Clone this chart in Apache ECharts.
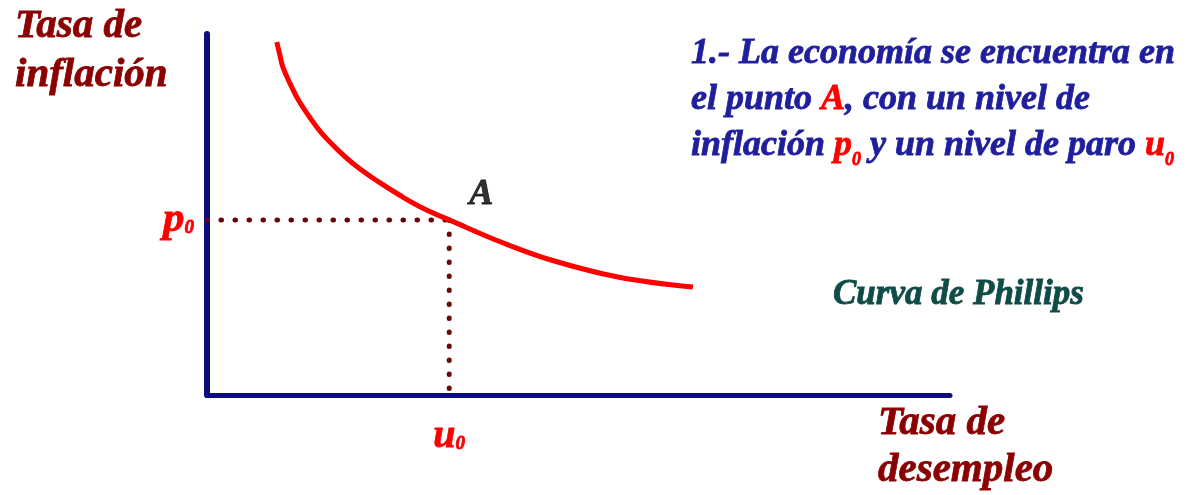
<!DOCTYPE html>
<html lang="es">
<head>
    <meta charset="UTF-8">
    <title>Curva de Phillips</title>
    <script type="text/javascript" src="https://cdn.jsdelivr.net/npm/echarts@6/dist/echarts.min.js"></script>
    <style>
      *{margin:0;padding:0}
      html,body{width:100%;height:100%;background:#fff}
      #main{width:1191px;height:495px}
    </style>
</head>
<body>
<div id="main"></div>

<script>
    var chart = echarts.init(document.getElementById("main"));

    // curva de Phillips (paro, inflacion), escala 0-100
    var curveU = [9.4, 9.8, 10.2, 11.2, 12.3, 13.8, 15.4, 17.6, 19.9, 22.9, 25.9, 29.0, 32.6, 39.9, 46.3, 55.3, 65.4];
    var curveP = [97.8, 94.2, 90.9, 86.2, 81.7, 77.0, 72.6, 67.9, 63.7, 59.3, 55.4, 51.8, 48.5, 42.1, 37.4, 32.7, 29.9];
    // punto A
    var u0 = 32.6;
    var p0 = 48.5;
    var uBottom = -1.9; // la linea punteada baja un poco bajo el eje

    var serif = '"Liberation Serif", "Times New Roman", serif';
    var darkRed = '#8b0000';
    var navy = '#1f1f9e';
    var axisBlue = '#0c0c80';
    var dotColor = '#6a0606';

    var curveData = curveU.map(function (u, i) { return [u, curveP[i]]; });

    var dotted = {
        color: dotColor,
        width: 5,
        type: [0.5, 13.5],
        cap: 'round'
    };

    function font(size, extra) {
        var s = {
            fontFamily: serif,
            fontStyle: 'italic',
            fontWeight: 'bold',
            fontSize: size
        };
        for (var k in extra) s[k] = extra[k];
        return s;
    }

    // etiquetas de ejes / series: trazo fino para engrosar
    function lab(size, color, extra) {
        var s = font(size, extra);
        s.color = color;
        s.textBorderColor = color;
        s.textBorderWidth = 0.8;
        return s;
    }

    // textos graficos (zrender): fill + stroke
    function gtxt(size, color, extra) {
        var s = font(size, extra);
        s.fill = color;
        s.stroke = color;
        s.lineWidth = 0.8;
        return s;
    }

    var option = {
        backgroundColor: '#fff',
        animation: false,
        grid: {left: 207, right: 241, top: 34, bottom: 100},
        xAxis: {
            type: 'value',
            min: 0,
            max: 100,
            splitLine: {show: false},
            axisTick: {show: false},
            axisLine: {show: true, lineStyle: {color: axisBlue, width: 5}},
            axisLabel: {
                show: true,
                customValues: [u0],
                margin: 24,
                formatter: function () { return '{u|u}{s|0}'; },
                rich: {
                    u: lab(40, 'red', {lineHeight: 35}),
                    s: lab(19, 'red', {lineHeight: 19, verticalAlign: 'bottom'})
                }
            }
        },
        yAxis: {
            type: 'value',
            min: 0,
            max: 100,
            splitLine: {show: false},
            axisTick: {show: false},
            axisLine: {show: true, lineStyle: {color: axisBlue, width: 6}},
            axisLabel: {
                show: true,
                customValues: [p0],
                margin: 13,
                formatter: function () { return '{p|p}{s|0}'; },
                rich: {
                    p: lab(43, 'red', {lineHeight: 36}),
                    s: lab(19, 'red', {lineHeight: 19, verticalAlign: 'bottom'})
                }
            }
        },
        series: [
            {
                type: 'line',
                data: [[0, p0], [u0, p0]],
                symbol: 'none',
                clip: false,
                lineStyle: dotted,
                z: 1
            },
            {
                type: 'line',
                data: [[u0, p0], [u0, uBottom]],
                symbol: 'none',
                clip: false,
                lineStyle: dotted,
                z: 1
            },
            {
                type: 'line',
                data: curveData,
                smooth: 0.4,
                symbol: 'none',
                lineStyle: {color: '#ff0000', width: 5},
                z: 3
            },
            {
                type: 'scatter',
                data: [[u0, p0]],
                symbolSize: 0,
                label: lab(36, '#000', {
                    show: true,
                    formatter: 'A',
                    position: [20, -25],
                    align: 'left',
                    verticalAlign: 'middle'
                }),
                z: 4
            }
        ],
        graphic: [
            {
                type: 'text',
                x: 15,
                y: 2,
                style: gtxt(41, darkRed, {
                    text: 'Tasa de\ninflación',
                    lineHeight: 49,
                    align: 'left',
                    verticalAlign: 'top'
                })
            },
            {
                type: 'text',
                x: 878,
                y: 400,
                style: gtxt(41, darkRed, {
                    text: 'Tasa de\ndesempleo',
                    lineHeight: 47,
                    align: 'left',
                    verticalAlign: 'top'
                })
            },
            {
                type: 'text',
                x: 833,
                y: 295,
                style: gtxt(35, '#0f4c47', {
                    text: 'Curva de Phillips',
                    align: 'left',
                    verticalAlign: 'middle'
                })
            },
            {
                type: 'text',
                x: 691,
                y: 31,
                style: {
                    text: '{n|1.- La economía se encuentra en}\n' +
                          '{n|el punto }{r|A}{n|, con un nivel de}\n' +
                          '{n|inflación }{r|p}{rs|0}{n| y un nivel de paro }{r|u}{rs|0}',
                    align: 'left',
                    verticalAlign: 'top',
                    rich: {
                        n: gtxt(36, navy, {lineHeight: 46}),
                        r: gtxt(36, '#ff0000', {lineHeight: 46}),
                        rs: gtxt(18, '#ff0000', {lineHeight: 28, verticalAlign: 'bottom'})
                    }
                }
            }
        ]
    };
    chart.setOption(option);
</script>
</body>
</html>
